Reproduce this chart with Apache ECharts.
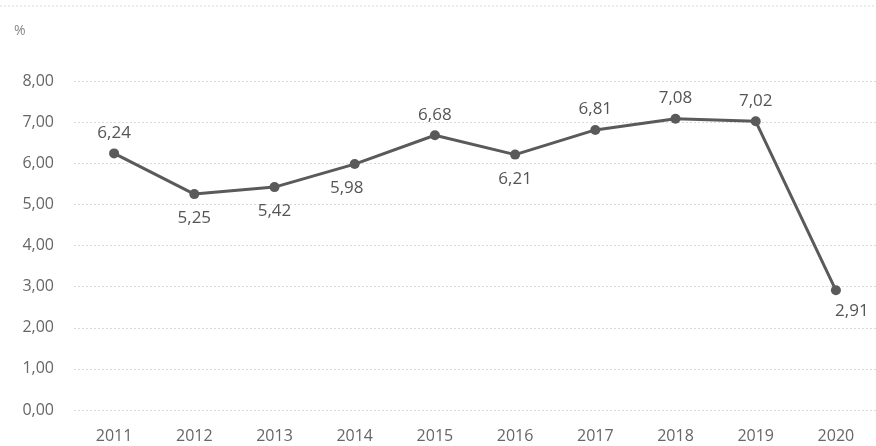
<!DOCTYPE html>
<html><head><meta charset="utf-8">
<script src="https://cdn.jsdelivr.net/npm/echarts@6/dist/echarts.min.js"></script>
<style>html,body{margin:0;padding:0;background:#fff}#c{width:876px;height:446px}</style>
</head><body><div id="c"></div>
<script>
const years = ['2011','2012','2013','2014','2015','2016','2017','2018','2019','2020'];
const values = [6.24, 5.25, 5.42, 5.98, 6.68, 6.21, 6.81, 7.08, 7.02, 2.91];
const labelPos = ['top','bottom','bottom','bottom','top','bottom','top','top','top','bottom'];
const yTicks = [0,1,2,3,4,5,6,7,8];
const fmt = v => v.toFixed(2).replace('.', ',');
const chart = echarts.init(document.getElementById('c'));
chart.setOption({
  animation:false,
  textStyle:{fontFamily:'Open Sans'},
  graphic:[
    {type:'text', left:14, top:24, style:{text:'%', fill:'#888', font:'14px "Open Sans"'}},
    {type:'line', shape:{x1:0,y1:6,x2:876,y2:6}, style:{stroke:'#dcdcdc', lineWidth:1, lineDash:[2,2]}}
  ],
  grid:{left:74, right:0, top:81, bottom:36},
  xAxis:{type:'category', data:years, boundaryGap:true,
    axisLine:{show:false}, axisTick:{show:false},
    axisLabel:{color:'#666', fontSize:16, margin:18}},
  yAxis:{type:'value', min:0, max:8, interval:1,
    axisLine:{show:false}, axisTick:{show:false},
    axisLabel:{color:'#666', fontSize:16, margin:20, formatter:v=>fmt(v)},
    splitLine:{lineStyle:{color:'#dadada', type:[2,2], width:1}}},
  series:[{
    type:'line', data: values.map((v,i)=>({value:v, label:{position:labelPos[i], offset: i===9?[16,-4]:(i===3?[-8,0]:[0,0]), distance: labelPos[i]==='top'?7:11}})),
    symbol:'circle', symbolSize:10,
    lineStyle:{color:'#5a5a5a', width:3},
    itemStyle:{color:'#5a5a5a'},
    label:{show:true, color:'#555', fontSize:17, formatter:p=>fmt(p.value)}
  }]
});
</script></body></html>
